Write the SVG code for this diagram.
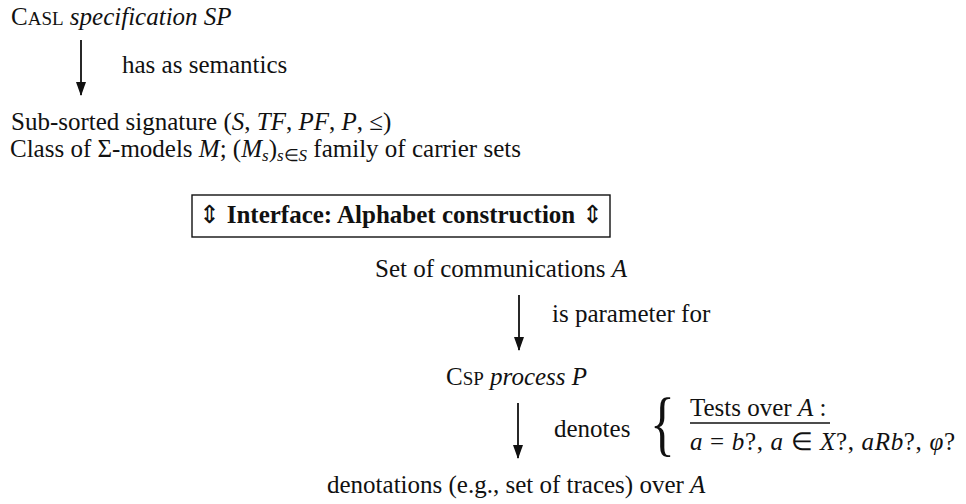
<svg xmlns="http://www.w3.org/2000/svg" width="966" height="504" viewBox="0 0 966 504">
  <style>
    text { font-family: "Liberation Serif", "Times New Roman", serif; font-size: 25px; fill: #111; }
    .it { font-style: italic; }
    .sc { font-size: 19px; }
    .sub { font-size: 17px; }
    .b { font-weight: bold; }
    .thin { font-weight: normal; }
    .edge { stroke: #111; stroke-width: 1.8; fill: none; }
  </style>
  <defs>
    <marker id="tip" markerWidth="14" markerHeight="10" refX="13" refY="5" orient="auto" markerUnits="userSpaceOnUse" viewBox="0 0 14 10">
      <path d="M0,0 L14,5 L0,10 Z" fill="#111"/>
    </marker>
  </defs>

  <g id="casl-spec">
    <text x="11" y="25">C<tspan class="sc">ASL</tspan> <tspan class="it">specification SP</tspan></text>
  </g>

  <g id="signature">
    <text x="11" y="130">Sub-sorted signature (<tspan class="it">S</tspan>, <tspan class="it">TF</tspan>, <tspan class="it">PF</tspan>, <tspan class="it">P</tspan>, ≤)</text>
    <text x="10" y="157">Class of Σ-models <tspan class="it">M</tspan>; (<tspan class="it">M</tspan><tspan class="it sub" dy="4">s</tspan><tspan dy="-4">)</tspan><tspan class="it sub" dy="4">s</tspan><tspan class="sub">∈</tspan><tspan class="it sub">S</tspan><tspan dy="-4"> family of carrier sets</tspan></text>
  </g>

  <g id="interface">
    <rect x="192" y="195" width="418" height="42" fill="none" stroke="#111" stroke-width="1.4"/>
    <text class="b" x="401" y="223" text-anchor="middle"><tspan class="thin">⇕</tspan> Interface: Alphabet construction <tspan class="thin">⇕</tspan></text>
  </g>

  <g id="communications">
    <text x="375" y="277">Set of communications <tspan class="it">A</tspan></text>
  </g>

  <g id="csp-process">
    <text x="446" y="385">C<tspan class="sc">SP</tspan> <tspan class="it">process P</tspan></text>
  </g>

  <g id="denotations">
    <text x="327" y="493">denotations (e.g., set of traces) over <tspan class="it">A</tspan></text>
  </g>

  <g id="tests">
    <text transform="translate(650 447) scale(0.72 1)" style="font-size:72px">{</text>
    <text x="690" y="416">Tests over <tspan class="it">A</tspan> :</text>
    <line x1="690" y1="423" x2="830" y2="423" stroke="#111" stroke-width="1.3"/>
    <text x="690" y="450" textLength="265"><tspan class="it">a</tspan> = <tspan class="it">b</tspan>?, <tspan class="it">a</tspan> ∈ <tspan class="it">X</tspan>?, <tspan class="it">aRb</tspan>?, <tspan class="it">φ</tspan>?</text>
  </g>

  <g id="connectors">
    <line class="edge" x1="81" y1="40" x2="81" y2="95" marker-end="url(#tip)"/>
    <text x="122" y="73">has as semantics</text>
    <line class="edge" x1="519" y1="295" x2="519" y2="350" marker-end="url(#tip)"/>
    <text x="552" y="322">is parameter for</text>
    <line class="edge" x1="518" y1="403" x2="518" y2="458" marker-end="url(#tip)"/>
    <text x="554" y="437">denotes</text>
  </g>
</svg>
